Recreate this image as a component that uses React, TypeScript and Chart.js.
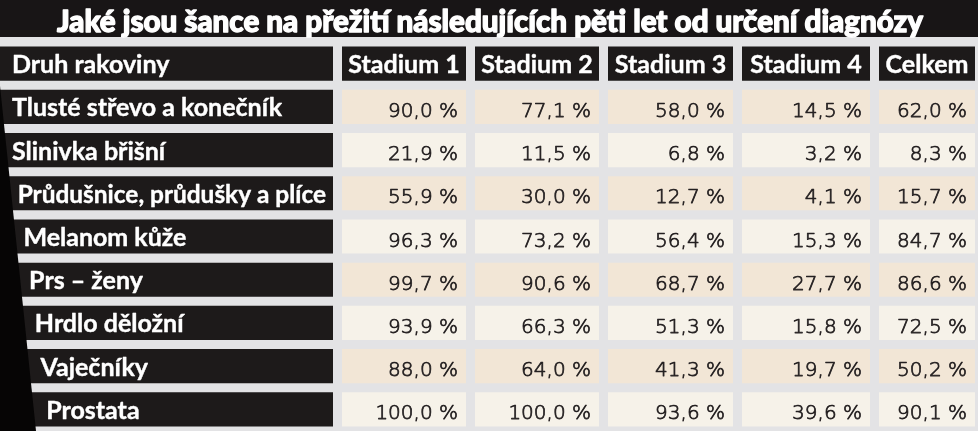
import React, { useEffect, useRef } from 'react';
import { Chart, registerables } from 'chart.js';

Chart.register(...registerables);

// ---------- data ----------
const TITLE = 'Jaké jsou šance na přežití následujících pěti let od určení diagnózy';
const HEADER_LABEL = 'Druh rakoviny';
const COLUMNS = ['Stadium 1', 'Stadium 2', 'Stadium 3', 'Stadium 4', 'Celkem'];
const CANCERS = [
  'Tlusté střevo a konečník',
  'Slinivka břišní',
  'Průdušnice, průdušky a plíce',
  'Melanom kůže',
  'Prs – ženy',
  'Hrdlo děložní',
  'Vaječníky',
  'Prostata',
];
const STADIUM1 = [90.0, 21.9, 55.9, 96.3, 99.7, 93.9, 88.0, 100.0];
const STADIUM2 = [77.1, 11.5, 30.0, 73.2, 90.6, 66.3, 64.0, 100.0];
const STADIUM3 = [58.0, 6.8, 12.7, 56.4, 68.7, 51.3, 41.3, 93.6];
const STADIUM4 = [14.5, 3.2, 4.1, 15.3, 27.7, 15.8, 19.7, 39.6];
const CELKEM = [62.0, 8.3, 15.7, 84.7, 86.6, 72.5, 50.2, 90.1];
const SERIES = [STADIUM1, STADIUM2, STADIUM3, STADIUM4, CELKEM];

// ---------- layout / style ----------
const W = 978;
const H = 431;
const ROWS = [HEADER_LABEL, ...CANCERS];
const LABEL_SPAN: [number, number] = [0, 333];
const COL_SPANS: [number, number][] = [
  [342, 466],
  [475, 599],
  [608, 733],
  [742, 870],
  [879, 975],
];
const BG = '#e3e3e5';
const DARK = '#1d1a1a';
const BEIGE = '#f2e6d6';
const CREAM = '#f6f2e9';
const BOLD_FONT = "'Lato', 'Open Sans', 'DejaVu Sans', sans-serif";
const VALUE_FONT = "'DejaVu Sans', 'Open Sans', sans-serif";

const fmt = (v: number) => v.toFixed(1).replace('.', ',') + ' %';

const rowColor = (r: number) => (r === 0 ? DARK : r % 2 === 1 ? BEIGE : CREAM);

const tablePlugin = {
  id: 'tableDecor',
  beforeDraw(chart: any) {
    const { ctx } = chart;
    ctx.save();
    ctx.fillStyle = BG;
    ctx.fillRect(0, 0, W, H);
    ctx.fillStyle = '#181516';
    ctx.fillRect(0, 0, W, 37);
    ctx.restore();
  },
  afterDatasetsDraw(chart: any) {
    const { ctx } = chart;
    ctx.save();
    // dark slanted photo edge on the left
    ctx.fillStyle = '#060505';
    ctx.beginPath();
    ctx.moveTo(0, 86);
    ctx.lineTo(36, H);
    ctx.lineTo(0, H);
    ctx.closePath();
    ctx.fill();

    // title
    ctx.fillStyle = '#ffffff';
    ctx.strokeStyle = '#ffffff';
    ctx.lineWidth = 1.3;
    ctx.lineJoin = 'round';
    ctx.textAlign = 'center';
    ctx.textBaseline = 'alphabetic';
    ctx.font = `900 30px ${BOLD_FONT}`;
    ctx.fillText(TITLE, W / 2 + 1, 31.5, 866);
    ctx.strokeText(TITLE, W / 2 + 1, 31.5, 866);

    const labelMeta = chart.getDatasetMeta(0);
    // header + row labels
    ctx.textAlign = 'left';
    ctx.font = `bold 25px ${BOLD_FONT}`;
    ctx.lineWidth = 0.4;
    ROWS.forEach((label, r) => {
      const el = labelMeta.data[r];
      const x = 12 + 5.7 * Math.max(0, r - 2);
      ctx.fillStyle = '#ffffff';
      ctx.fillText(label, x, el.y + 9.5, 326 - x);
      ctx.strokeText(label, x, el.y + 9.5, 326 - x);
    });

    // column headers + values
    COLUMNS.forEach((col, c) => {
      const meta = chart.getDatasetMeta(c + 1);
      const head = meta.data[0];
      const left = Math.min(head.x, head.base);
      const right = Math.max(head.x, head.base);
      ctx.textAlign = 'center';
      ctx.fillStyle = '#ffffff';
      ctx.strokeStyle = '#ffffff';
      ctx.lineWidth = 0.4;
      ctx.font = `bold 25px ${BOLD_FONT}`;
      ctx.fillText(col, (left + right) / 2, head.y + 9.5, right - left - 8);
      ctx.strokeText(col, (left + right) / 2, head.y + 9.5, right - left - 8);

      ctx.textAlign = 'right';
      ctx.fillStyle = '#231f20';
      ctx.strokeStyle = '#231f20';
      ctx.lineWidth = 0.75;
      ctx.font = `300 20px ${VALUE_FONT}`;
      SERIES[c].forEach((v, i) => {
        const el = meta.data[i + 1];
        const rx = Math.max(el.x, el.base);
        ctx.fillText(fmt(v), rx - 8, el.y + 10);
        ctx.strokeText(fmt(v), rx - 8, el.y + 10);
      });
    });
    ctx.restore();
  },
};

export default function App() {
  const ref = useRef<HTMLCanvasElement>(null);

  useEffect(() => {
    if (!ref.current) return;
    const datasets = [
      {
        label: HEADER_LABEL,
        data: ROWS.map(() => LABEL_SPAN),
        backgroundColor: ROWS.map(() => DARK),
      },
      ...COLUMNS.map((col, c) => ({
        label: col,
        data: ROWS.map(() => COL_SPANS[c]),
        backgroundColor: ROWS.map((_, r) => rowColor(r)),
      })),
    ];
    const chart = new Chart(ref.current, {
      type: 'bar',
      data: { labels: ROWS, datasets: datasets as any },
      options: {
        indexAxis: 'y',
        responsive: false,
        animation: false,
        events: [],
        layout: { padding: { top: 42, bottom: 0, left: 0, right: 0 } },
        datasets: {
          bar: {
            grouped: false,
            categoryPercentage: 1,
            barPercentage: 0.79,
            borderWidth: 0,
          },
        },
        scales: {
          x: { type: 'linear', min: 0, max: W, display: false },
          y: { type: 'category', display: false, offset: true },
        },
        plugins: {
          legend: { display: false },
          tooltip: { enabled: false },
          title: { display: false },
        },
      } as any,
      plugins: [tablePlugin],
    });
    return () => chart.destroy();
  }, []);

  return (
    <canvas
      ref={ref}
      width={W}
      height={H}
      style={{ position: 'fixed', left: 0, top: 0, width: W, height: H, display: 'block' }}
    />
  );
}
